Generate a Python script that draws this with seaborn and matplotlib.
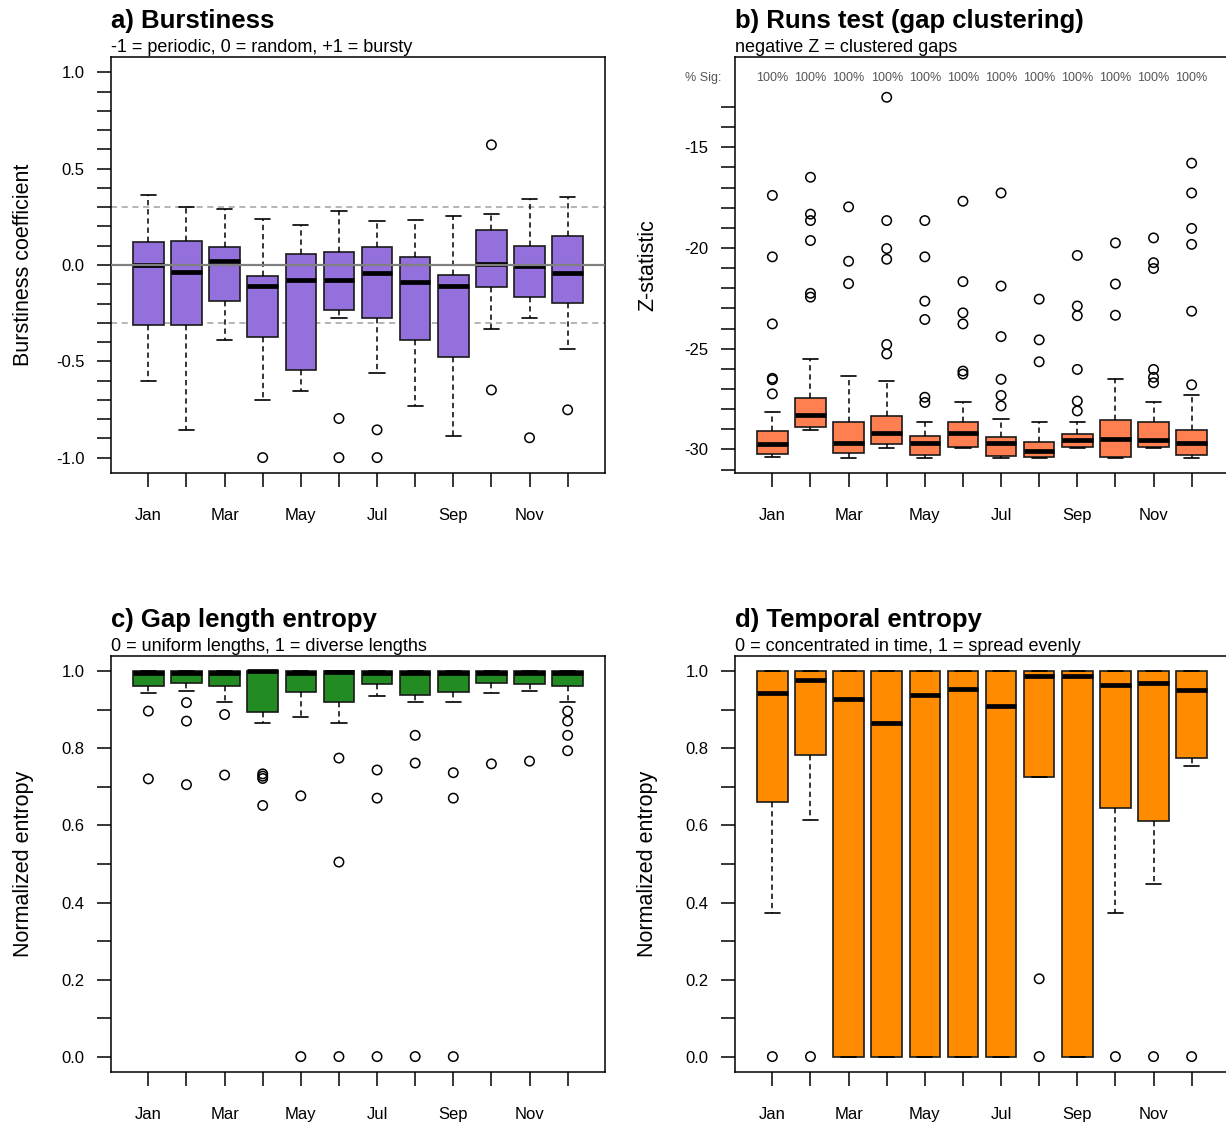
import pandas as pd
import matplotlib.pyplot as plt
import seaborn as sns
from matplotlib.ticker import FixedLocator
from matplotlib.transforms import blended_transform_factory

# Month categories and the labels R managed to fit on the x axis
months = ['Jan', 'Feb', 'Mar', 'Apr', 'May', 'Jun', 'Jul', 'Aug', 'Sep', 'Oct', 'Nov', 'Dec']
month_labels = ['Jan', '', 'Mar', '', 'May', '', 'Jul', '', 'Sep', '', 'Nov', '']

# a) Burstiness - five number summaries + outliers per month
burst_med = [0.000, -0.034, 0.023, -0.109, -0.080, -0.080, -0.043, -0.089, -0.107, 0.005, -0.004, -0.041]
burst_q1 = [-0.310, -0.314, -0.185, -0.373, -0.544, -0.234, -0.275, -0.392, -0.476, -0.116, -0.164, -0.198]
burst_q3 = [0.121, 0.125, 0.091, -0.057, 0.055, 0.068, 0.093, 0.043, -0.053, 0.180, 0.098, 0.153]
burst_lo = [-0.604, -0.856, -0.390, -0.699, -0.654, -0.273, -0.561, -0.733, -0.888, -0.333, -0.275, -0.435]
burst_hi = [0.362, 0.300, 0.292, 0.241, 0.209, 0.282, 0.226, 0.232, 0.257, 0.267, 0.344, 0.351]
burst_out = [[], [], [], [-1.0], [], [-0.797, -1.0], [-0.856, -1.0], [], [], [0.624, -0.649], [-0.897], [-0.752]]

# b) Runs test Z statistic
runs_med = [-29.74, -28.30, -29.70, -29.19, -29.70, -29.19, -29.68, -30.06, -29.51, -29.50, -29.51, -29.70]
runs_q1 = [-30.23, -28.91, -30.20, -29.74, -30.30, -29.87, -30.33, -30.37, -29.87, -30.37, -29.89, -30.26]
runs_q3 = [-29.10, -27.46, -28.62, -28.33, -29.32, -28.66, -29.39, -29.63, -29.21, -28.52, -28.62, -29.03]
runs_lo = [-30.37, -29.03, -30.45, -29.92, -30.45, -29.92, -30.45, -30.45, -29.92, -30.45, -29.92, -30.45]
runs_hi = [-28.13, -25.53, -26.37, -26.62, -28.62, -27.67, -28.50, -28.62, -28.62, -26.50, -27.67, -27.29]
runs_out = [
    [-17.39, -20.44, -23.77, -26.47, -26.54, -27.24],
    [-16.49, -18.32, -18.64, -19.63, -22.25, -22.44],
    [-17.96, -20.66, -21.77],
    [-12.52, -18.64, -20.03, -20.56, -24.79, -25.26],
    [-18.64, -20.44, -22.64, -23.55, -27.41, -27.67],
    [-17.68, -21.67, -23.22, -23.77, -26.11, -26.26],
    [-17.27, -21.89, -24.40, -26.52, -27.32, -27.84],
    [-22.54, -24.56, -25.65],
    [-20.37, -22.88, -23.36, -26.03, -27.60, -28.09],
    [-19.75, -21.79, -23.34],
    [-19.50, -20.73, -21.02, -26.03, -26.42, -26.69],
    [-15.79, -17.27, -19.03, -19.82, -23.14, -26.79],
]
runs_sig = ['100%', '100%', '100%', '100%', '100%', '100%', '100%', '100%', '100%', '100%', '100%', '100%']

# c) Gap length entropy
gap_med = [0.997, 0.997, 0.997, 1.000, 0.997, 0.999, 0.997, 0.997, 0.997, 0.997, 0.997, 0.997]
gap_q1 = [0.961, 0.970, 0.961, 0.895, 0.947, 0.920, 0.968, 0.939, 0.947, 0.970, 0.968, 0.961]
gap_q3 = [1.0, 1.0, 1.0, 1.0, 1.0, 1.0, 1.0, 1.0, 1.0, 1.0, 1.0, 1.0]
gap_lo = [0.943, 0.948, 0.920, 0.866, 0.882, 0.866, 0.936, 0.920, 0.920, 0.944, 0.948, 0.920]
gap_hi = [1.0, 1.0, 1.0, 1.0, 1.0, 1.0, 1.0, 1.0, 1.0, 1.0, 1.0, 1.0]
gap_out = [[0.897, 0.721], [0.919, 0.871, 0.706], [0.888, 0.731], [0.734, 0.728, 0.722, 0.652],
           [0.677, 0.0], [0.775, 0.505, 0.0], [0.744, 0.671, 0.0], [0.834, 0.762, 0.0],
           [0.737, 0.671, 0.0], [0.760], [0.767], [0.897, 0.871, 0.834, 0.794]]

# d) Temporal entropy
temp_med = [0.943, 0.978, 0.928, 0.867, 0.940, 0.954, 0.909, 0.988, 0.987, 0.964, 0.971, 0.951]
temp_q1 = [0.660, 0.782, 0.0, 0.0, 0.0, 0.0, 0.0, 0.727, 0.0, 0.646, 0.612, 0.775]
temp_q3 = [1.0, 1.0, 1.0, 1.0, 1.0, 1.0, 1.0, 1.0, 1.0, 1.0, 1.0, 1.0]
temp_lo = [0.372, 0.614, 0.0, 0.0, 0.0, 0.0, 0.0, 0.727, 0.0, 0.372, 0.449, 0.755]
temp_hi = [1.0, 1.0, 1.0, 1.0, 1.0, 1.0, 1.0, 1.0, 1.0, 1.0, 1.0, 1.0]
temp_out = [[0.0], [0.0], [], [], [], [], [], [0.202, 0.0], [], [0.0], [0.0], [0.0]]

sns.set_theme(style="ticks")
plt.rcParams['font.family'] = ['Liberation Sans', 'DejaVu Sans']
plt.rcParams['axes.unicode_minus'] = False
plt.rcParams['text.color'] = 'black'
plt.rcParams['axes.labelcolor'] = 'black'

fig = plt.figure(figsize=(12.26, 11.25), dpi=100)
W, H = 1226, 1125


def make_ax(left, top):
    return fig.add_axes([left / W, 1 - (top + 416) / H, 494 / W, 416 / H])


def draw_boxes(ax, med, q1, q3, lo, hi, out, color):
    stats = []
    for i in range(len(months)):
        stats.append(dict(med=med[i], q1=q1[i], q3=q3[i], whislo=lo[i], whishi=hi[i], fliers=[]))
    ax.bxp(stats, positions=list(range(1, 13)), widths=0.8, capwidths=0.4,
           patch_artist=True, showfliers=False, manage_ticks=False,
           boxprops=dict(facecolor=color, edgecolor='#1a1a1a', linewidth=1.2),
           medianprops=dict(color='black', linewidth=3.4, solid_capstyle='butt'),
           whiskerprops=dict(color='black', linewidth=1.1, linestyle=(0, (3.5, 2.5))),
           capprops=dict(color='black', linewidth=1.2))
    rows = [(i + 1, v) for i, vals in enumerate(out) for v in vals]
    df = pd.DataFrame(rows, columns=['month', 'value'])
    if len(df):
        sns.scatterplot(data=df, x='month', y='value', ax=ax, marker='o', s=46,
                        facecolor='none', edgecolor='black', linewidth=1.1,
                        legend=False, zorder=4)


def style_ax(ax, ylim, major, minor, fmt, title, subtitle, ylabel):
    ax.set_xlim(0.02, 12.98)
    ax.set_ylim(*ylim)
    ax.xaxis.set_major_locator(FixedLocator(list(range(1, 13))))
    ax.set_xticklabels(month_labels)
    ax.yaxis.set_major_locator(FixedLocator(major))
    ax.set_yticklabels([fmt.format(v) for v in major])
    ax.yaxis.set_minor_locator(FixedLocator(minor))
    ax.tick_params(axis='both', which='both', direction='out', length=10, width=1.1,
                   color='black', labelsize=12, labelcolor='black')
    ax.tick_params(axis='x', pad=15)
    ax.tick_params(axis='y', pad=9)
    ax.tick_params(top=False, right=False)
    for sp in ax.spines.values():
        sp.set_visible(True)
        sp.set_linewidth(1.1)
        sp.set_color('black')
    ax.set_xlabel('')
    ax.set_ylabel(ylabel, fontsize=15.5, color='black')
    ax.yaxis.set_label_coords(-0.156, 0.5)
    ax.annotate(title, xy=(0, 1), xycoords='axes fraction', xytext=(0, 21),
                textcoords='offset points', ha='left', va='baseline',
                fontsize=18.5, fontweight='bold', color='black')
    ax.annotate(subtitle, xy=(0, 1), xycoords='axes fraction', xytext=(0, 3.6),
                textcoords='offset points', ha='left', va='baseline', fontsize=13,
                color='black')


# a) Burstiness
ax = make_ax(111, 57)
for y in (0.3, -0.3):
    ax.axhline(y, color='#a0a0a0', linewidth=1.1, linestyle=(0, (4, 3)), zorder=0.5)
draw_boxes(ax, burst_med, burst_q1, burst_q3, burst_lo, burst_hi, burst_out, '#9370DB')
ax.axhline(0, color='#808080', linewidth=1.6, zorder=5)
style_ax(ax, (-1.08, 1.08), [-1.0, -0.5, 0.0, 0.5, 1.0],
         [round(-1.0 + 0.1 * k, 1) for k in range(21)], '{:.1f}',
         'a) Burstiness', '-1 = periodic, 0 = random, +1 = bursty', 'Burstiness coefficient')

# b) Runs test
ax = make_ax(735, 57)
draw_boxes(ax, runs_med, runs_q1, runs_q3, runs_lo, runs_hi, runs_out, '#FF7F50')
style_ax(ax, (-31.17, -10.52), [-30, -25, -20, -15], list(range(-31, -12)), '{:d}',
         'b) Runs test (gap clustering)', 'negative Z = clustered gaps', 'Z-statistic')
for i, lab in enumerate(runs_sig):
    ax.text(i + 1, -11.55, lab, ha='center', va='center', fontsize=9, color='#555555')
trans = blended_transform_factory(ax.transAxes, ax.transData)
ax.text(-0.028, -11.55, '% Sig:', transform=trans, ha='right', va='center',
        fontsize=9, color='#555555', clip_on=False)

# c) Gap length entropy
ent_major = [0.0, 0.2, 0.4, 0.6, 0.8, 1.0]
ent_minor = [round(0.1 * k, 1) for k in range(11)]
ax = make_ax(111, 656)
draw_boxes(ax, gap_med, gap_q1, gap_q3, gap_lo, gap_hi, gap_out, '#228B22')
style_ax(ax, (-0.04, 1.04), ent_major, ent_minor, '{:.1f}',
         'c) Gap length entropy', '0 = uniform lengths, 1 = diverse lengths', 'Normalized entropy')

# d) Temporal entropy
ax = make_ax(735, 656)
draw_boxes(ax, temp_med, temp_q1, temp_q3, temp_lo, temp_hi, temp_out, '#FF8C00')
style_ax(ax, (-0.04, 1.04), ent_major, ent_minor, '{:.1f}',
         'd) Temporal entropy', '0 = concentrated in time, 1 = spread evenly', 'Normalized entropy')

fig.savefig('out.png', dpi=100)
